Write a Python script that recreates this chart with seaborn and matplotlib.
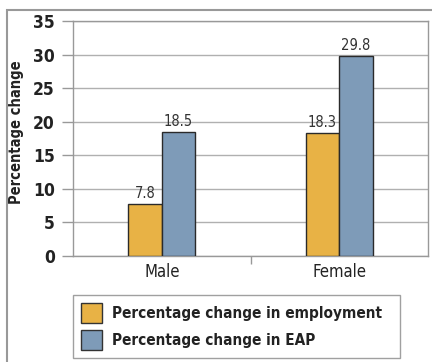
import matplotlib
matplotlib.use("Agg")
import matplotlib.pyplot as plt
import matplotlib.patches as mpatches
import seaborn as sns
import pandas as pd

categories = ["Male", "Female"]
series_names = ["Percentage change in employment", "Percentage change in EAP"]
employment = [7.8, 18.3]
eap = [18.5, 29.8]
yticks = [0, 5, 10, 15, 20, 25, 30, 35]

colors = ["#E8B245", "#7E9BB8"]

sns.set_theme(style="white")
plt.rcParams['font.family'] = ['DejaVu Sans']
plt.rcParams['font.stretch'] = 'condensed'

df = pd.DataFrame({
    "Gender": categories * 2,
    "Series": [series_names[0]] * 2 + [series_names[1]] * 2,
    "Value": employment + eap,
})

W, H = 432, 362
fig = plt.figure(figsize=(W / 100, H / 100), dpi=100)
ax = fig.add_axes([73 / W, 1 - 256 / H, (428 - 73) / W, (256 - 21) / H])

sns.barplot(data=df, x="Gender", y="Value", hue="Series", order=categories,
            hue_order=series_names, palette=colors, saturation=1, width=0.38, gap=0,
            edgecolor="#2a2a2a", linewidth=1.0, ax=ax, legend=False, zorder=3)

ax.set_xlim(-0.5, 1.5)
ax.set_ylim(0, 35)
ax.set_yticks(yticks)
ax.set_yticklabels([str(t) for t in yticks], fontsize=12.5, fontweight="bold", color="#222222")
ax.yaxis.grid(True, color="#b0b0b0", linewidth=1.0, zorder=0)
ax.set_axisbelow(True)
ax.tick_params(axis="y", length=8, width=1, color="#999999", pad=5, left=True)
ax.tick_params(axis="x", length=0, labelsize=12, colors="#222222", pad=5)
ax.set_xticks([0.5], minor=True)
ax.tick_params(axis="x", which="minor", length=6, width=1, color="#999999", bottom=True)
for s in ax.spines.values():
    s.set_color("#999999")
    s.set_linewidth(1.0)
ax.set_xlabel("")
ax.set_ylabel("Percentage change", fontsize=10.5, fontweight="bold", color="#222222")
ax.yaxis.set_label_coords(-(73 - 24) / (428 - 73), 0.525)

for cont in ax.containers:
    ax.bar_label(cont, labels=[f"{v:.1f}" for v in cont.datavalues],
                 fontsize=10.5, color="#333333", padding=2)

handles = [mpatches.Patch(facecolor=c, edgecolor="#333333", linewidth=1.0) for c in colors]
leg = fig.legend(handles, series_names, loc="lower left",
                 bbox_to_anchor=(73 / W, 1 - 358 / H, (400 - 73) / W, (358 - 295) / H),
                 mode="expand", frameon=True, fancybox=False, ncol=1,
                 prop={"size": 11, "weight": "bold", "stretch": "condensed"},
                 handlelength=1.37, handleheight=1.6,
                 handletextpad=0.65, borderpad=0.55, labelspacing=0.45, borderaxespad=0)
leg.get_frame().set_edgecolor("#888888")
leg.get_frame().set_linewidth(1.0)
for t in leg.get_texts():
    t.set_color("#222222")

# outer frame of the exhibit
fig.patches.append(mpatches.Rectangle((7 / W, -0.05), 1.1, 1 - 9.5 / H + 0.05,
                                      transform=fig.transFigure, fill=False,
                                      edgecolor="#999999", linewidth=1.5))

fig.savefig("out.png", dpi=100)
